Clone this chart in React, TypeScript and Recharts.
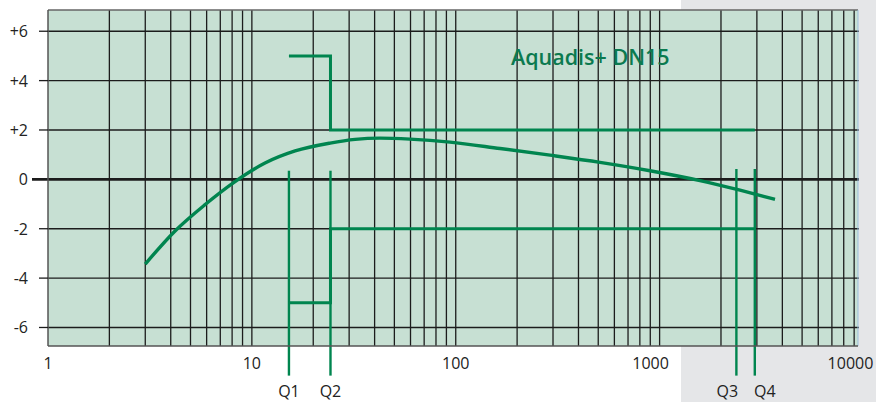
import { CartesianGrid, ComposedChart, Line, ReferenceLine, XAxis, YAxis } from 'recharts';

const GREEN = '#00854f';
const INK = '#1c1c1c';
const FONT = '"Open Sans", "Noto Sans", sans-serif';

// axis ticks
const xTicks = [1, 10, 100, 1000, 10000];
const yTicks = [-6, -4, -2, 0, 2, 4, 6];
const decades = [1, 10, 100, 1000];
const minorSteps = [1, 2, 3, 4, 5, 6, 7, 8, 9];
const X_MAX = 9400;
const Y_MIN = -6.75;
const Y_MAX = 6.86;

// flow points Q1..Q4 (l/h)
const qNames = ['Q1', 'Q2', 'Q3', 'Q4'];
const qFlow = [15.2, 24.3, 2380, 2930];
const qTop = [0.35, 0.35, 0.42, 0.42];
const qBottom = -7.95;
const qLabelDx = [0, 0, -9, 10];

// measured error curve (%)
const curveX = [3, 4.2, 5.9, 8.27, 11.6, 16.3, 24.2, 32.1, 42.5, 59.7, 93.7, 165, 290, 510, 897, 1578, 2480, 3681];
const curveY = [-3.43, -2.09, -1.02, -0.09, 0.66, 1.15, 1.47, 1.62, 1.67, 1.63, 1.51, 1.25, 0.98, 0.69, 0.35, -0.05, -0.44, -0.81];

// max permissible error envelope
const limitX = [15.2, 24.3, 24.3, 2930];
const upperY = [5, 5, 2, 2];
const lowerY = [-5, -5, -2, -2];

const curve = curveX.map((x, i) => ({ x, y: curveY[i] }));
const upper = limitX.map((x, i) => ({ x, y: upperY[i] }));
const lower = limitX.map((x, i) => ({ x, y: lowerY[i] }));
const gridX = decades.flatMap((d) => minorSteps.map((s) => d * s)).filter((v) => v > 1 && v < X_MAX);

function YTick(props: any) {
  const { x, y, payload } = props;
  const v = payload.value;
  return (
    <g>
      {v !== 0 && <line x1={x - 9} x2={x} y1={y} y2={y} stroke={INK} strokeWidth={1.3} />}
      <text x={x - 20} y={y + 6} textAnchor="end" fill="#222" fontSize={16} fontFamily={FONT}>
        {v > 0 ? `+${v}` : `${v}`}
      </text>
    </g>
  );
}

function XTick(props: any) {
  const { x, y, payload } = props;
  const v = payload.value;
  const shift = v >= 10000 ? -13 : v >= 1000 ? -9 : 0;
  return (
    <text x={x + shift} y={y + 23} textAnchor="middle" fill="#222" fontSize={16} fontFamily={FONT}>
      {v}
    </text>
  );
}

function GridRow(props: any) {
  const zero = yTicks[props.index] === 0;
  return (
    <line
      x1={zero ? props.x1 - 16 : props.x1}
      x2={props.x2 + 1}
      y1={props.y1}
      y2={props.y2}
      stroke={INK}
      strokeWidth={zero ? 2.6 : 1.3}
    />
  );
}

export default function App() {
  return (
    <div style={{ position: 'absolute', left: 0, top: 0, width: 876, height: 402, background: '#fff', overflow: 'hidden' }}>
      <div style={{ position: 'absolute', left: 681, top: 0, width: 195, height: 402, background: '#e5e6e8' }} />
      <div style={{ position: 'absolute', left: 0, top: 0 }}>
        <ComposedChart width={876} height={402} margin={{ top: 10, right: 18, bottom: 0, left: 0 }}>
          <CartesianGrid
            fill="#c7e0d3"
            fillOpacity={1}
            stroke={INK}
            strokeWidth={1.3}
            verticalValues={gridX}
            horizontalValues={yTicks}
            horizontal={GridRow}
          />
          <XAxis
            dataKey="x"
            type="number"
            scale="log"
            domain={[1, X_MAX]}
            allowDataOverflow
            ticks={xTicks}
            interval={0}
            height={56}
            tickSize={0}
            tickMargin={0}
            tick={XTick}
            axisLine={{ stroke: '#555', strokeWidth: 1.5 }}
          />
          <YAxis
            type="number"
            domain={[Y_MIN, Y_MAX]}
            allowDataOverflow
            ticks={yTicks}
            interval={0}
            width={48}
            tickSize={0}
            tickMargin={0}
            tick={YTick}
            axisLine={{ stroke: '#555', strokeWidth: 1.5 }}
          />
          <ReferenceLine y={Y_MAX} stroke="#666" strokeWidth={1.5} ifOverflow="visible" />
          <ReferenceLine x={X_MAX} stroke="#9cc0dc" strokeWidth={1} ifOverflow="visible" />
          {qFlow.map((q, i) => (
            <ReferenceLine
              key={qNames[i]}
              segment={[
                { x: q, y: qTop[i] },
                { x: q, y: qBottom },
              ]}
              stroke={GREEN}
              strokeWidth={2.4}
              ifOverflow="visible"
              label={{ value: qNames[i], position: 'bottom', offset: 10, dx: qLabelDx[i], fill: '#222', fontSize: 16, fontFamily: FONT }}
            />
          ))}
          <Line data={upper} dataKey="y" type="linear" stroke={GREEN} strokeWidth={3} dot={false} activeDot={false} isAnimationActive={false} strokeLinejoin="miter" />
          <Line data={lower} dataKey="y" type="linear" stroke={GREEN} strokeWidth={3} dot={false} activeDot={false} isAnimationActive={false} strokeLinejoin="miter" />
          <Line data={curve} dataKey="y" type="monotone" stroke={GREEN} strokeWidth={3.4} dot={false} activeDot={false} isAnimationActive={false} />
        </ComposedChart>
      </div>
      <div
        style={{
          position: 'absolute',
          left: 511,
          top: 46,
          fontFamily: FONT,
          fontSize: 21.5,
          fontWeight: 600,
          lineHeight: '21.5px',
          color: '#0b7a4f',
          whiteSpace: 'nowrap',
        }}
      >
        Aquadis+ DN15
      </div>
    </div>
  );
}
